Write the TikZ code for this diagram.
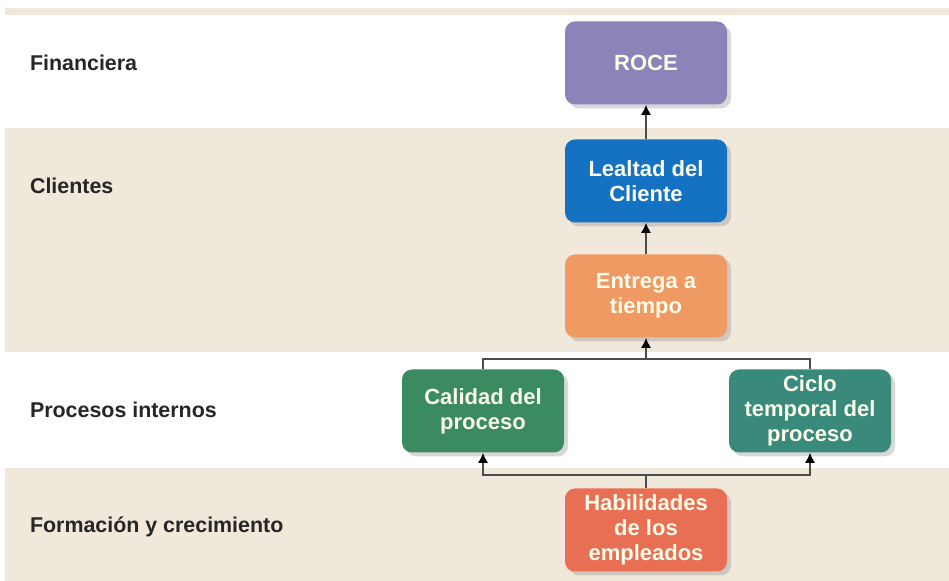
\documentclass[tikz,border=0pt]{standalone}
\usepackage{fontspec}
\setmainfont{Liberation Sans}
\usetikzlibrary{arrows.meta,shadows}
\definecolor{bandbeige}{HTML}{F1E8DC}
\definecolor{roceviolet}{HTML}{8A84B9}
\definecolor{lealblue}{HTML}{1572C2}
\definecolor{entorange}{HTML}{EF9A63}
\definecolor{calgreen}{HTML}{3A8B62}
\definecolor{cicteal}{HTML}{3A8A7C}
\definecolor{habred}{HTML}{E86F53}
\definecolor{boxtext}{HTML}{FBFBEA}
\begin{document}
\begin{tikzpicture}[x=0.5pt,y=-0.5pt,
	box/.style={rounded corners=5pt, minimum width=81pt, minimum height=41.5pt, inner sep=1pt, align=center, text=boxtext, font=\bfseries\fontsize{11}{12.5}\selectfont, drop shadow={shadow xshift=2pt, shadow yshift=-2pt, opacity=0.3, fill=gray}},
	cat/.style={anchor=west, text=black!85, font=\bfseries\fontsize{10.7}{12}\selectfont},
	link/.style={draw=black!70, line width=0.6pt},
	up/.style={link, -{Latex[length=5pt,width=5pt,black]}}]% Draw the bands
	\useasboundingbox (0,0) rectangle (949,581);
	\fill[white] (0,0) rectangle (949,581);
	\fill[bandbeige] (5,8) rectangle (949,15);
	\fill[bandbeige] (5,128) rectangle (949,352);
	\fill[bandbeige] (5,468) rectangle (949,581);
	
	\node[cat] (fin) at (23,63) {Financiera};
	\node[cat] (cli) at (23,186) {Clientes};
	\node[cat] (pro) at (23,410) {Procesos internos};
	\node[cat] (for) at (23,527) {Formación y crecimiento};
	
	\node[box, fill=roceviolet] (roce) at (646,63) {ROCE};
	\node[box, fill=lealblue] (lealtad) at (646,181) {Lealtad del\\Cliente};
	\node[box, fill=entorange] (entrega) at (646,296) {Entrega a\\tiempo};
	\node[box, fill=calgreen] (calidad) at (483,411) {Calidad del\\proceso};
	\node[box, fill=cicteal] (ciclo) at (810,411) {Ciclo\\temporal del\\proceso};
	\node[box, fill=habred] (habil) at (646,530) {Habilidades\\de los\\empleados};
	
	\draw[up] (lealtad) -- (roce);
	\draw[up] (entrega) -- (lealtad);
	\coordinate (jtop) at (646,359);
	\draw[link] (calidad.north) |- (jtop) -| (ciclo.north);
	\draw[up] (jtop) -- (entrega);
	\coordinate (jbot) at (646,475);
	\draw[link] (habil) -- (jbot);
	\draw[up] (jbot) -| (calidad.south);
	\draw[up] (jbot) -| (ciclo.south);
\end{tikzpicture}
\end{document}
